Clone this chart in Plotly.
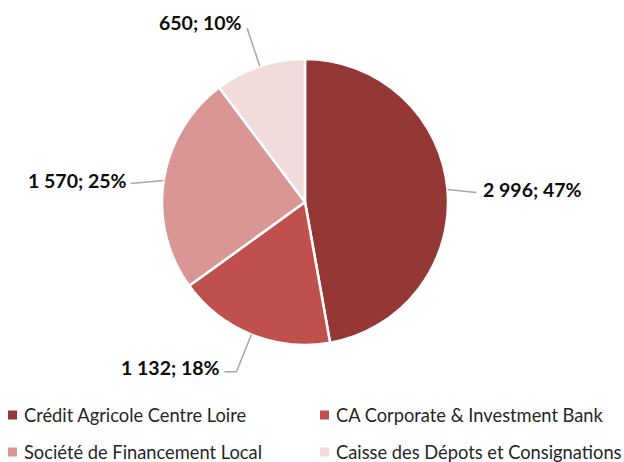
import math
import plotly.graph_objects as go

labels = ["Crédit Agricole Centre Loire", "CA Corporate & Investment Bank",
          "Société de Financement Local", "Caisse des Dépots et Consignations"]
values = [2996, 1132, 1570, 650]
colors = ["#953735", "#C0504D", "#D99694", "#F2DCDB"]

W, H = 624, 462
cx, cy, R = 305, 202, 143

def px(x):
    return x / W

def py(y):
    return 1 - y / H

def fmt(v):
    return f"{v:,}".replace(",", " ")

total = sum(values)

fig = go.Figure(go.Pie(
    labels=labels, values=values, sort=False, direction="clockwise", rotation=0,
    marker=dict(colors=colors, line=dict(color="white", width=2.5)),
    textinfo="none", hoverinfo="label+value+percent", showlegend=False,
    domain=dict(x=[px(cx - R), px(cx + R)], y=[py(cy + R), py(cy - R)]),
))

shapes = []
annotations = []
cum = 0
for v in values:
    mid = (cum + v / 2) / total * 2 * math.pi
    cum += v
    s, c = math.sin(mid), math.cos(mid)
    ex, ey = cx + R * s, cy - R * c
    right = s > 0
    if abs(s) > 0.9:
        # side labels: short, nearly horizontal leader
        bx = ex + (29 if right else -33)
        by = ey + 3
        hx = bx
        tx, ty = hx + (5 if right else -2), by - 3
    elif c < 0:
        # lower labels: elbow with horizontal tail
        f = 1.28
        bx, by = cx + R * f * s, cy - R * f * c
        hx = bx + (12 if right else -12)
        tx, ty = hx + (3 if right else -2), by - 4
    else:
        # upper labels: straight leader, text above its end
        f = 1.28
        bx, by = cx + R * f * s, cy - R * f * c
        hx = bx
        tx, ty = bx + (4 if right else -3), by - 6
    shapes.append(dict(type="path", xref="paper", yref="paper",
                       path=f"M {px(ex)} {py(ey)} L {px(bx)} {py(by)} L {px(hx)} {py(by)}",
                       line=dict(color="#A6A6A6", width=1.5)))
    pct = round(v / total * 100)
    annotations.append(dict(
        x=px(tx), y=py(ty), xref="paper", yref="paper", showarrow=False,
        xanchor="left" if right else "right", yanchor="middle",
        text=f"<b>{fmt(v)}; {pct}%</b>",
        font=dict(family="Lato", size=19.5, color="#0D0D0D"),
    ))

# manual two-column legend
leg_x = [8, 320]
leg_y = [415, 452]
for i, name in enumerate(labels):
    col, row = i % 2, i // 2
    x0, y0 = leg_x[col], leg_y[row]
    shapes.append(dict(type="rect", xref="paper", yref="paper",
                       x0=px(x0), x1=px(x0 + 9), y0=py(y0 + 4.5), y1=py(y0 - 4.5),
                       fillcolor=colors[i], line=dict(width=0)))
    annotations.append(dict(x=px(x0 + 14), y=py(y0), xref="paper", yref="paper",
                            showarrow=False, xanchor="left", yanchor="middle",
                            text=name, font=dict(family="Lato", size=18.3, color="#262626")))

fig.update_layout(
    width=W, height=H, margin=dict(l=0, r=0, t=0, b=0),
    paper_bgcolor="white", plot_bgcolor="white",
    shapes=shapes, annotations=annotations, showlegend=False,
)

fig.write_html("out.html", config={"displayModeBar": False},
               post_script="document.body.style.margin='0px';")
